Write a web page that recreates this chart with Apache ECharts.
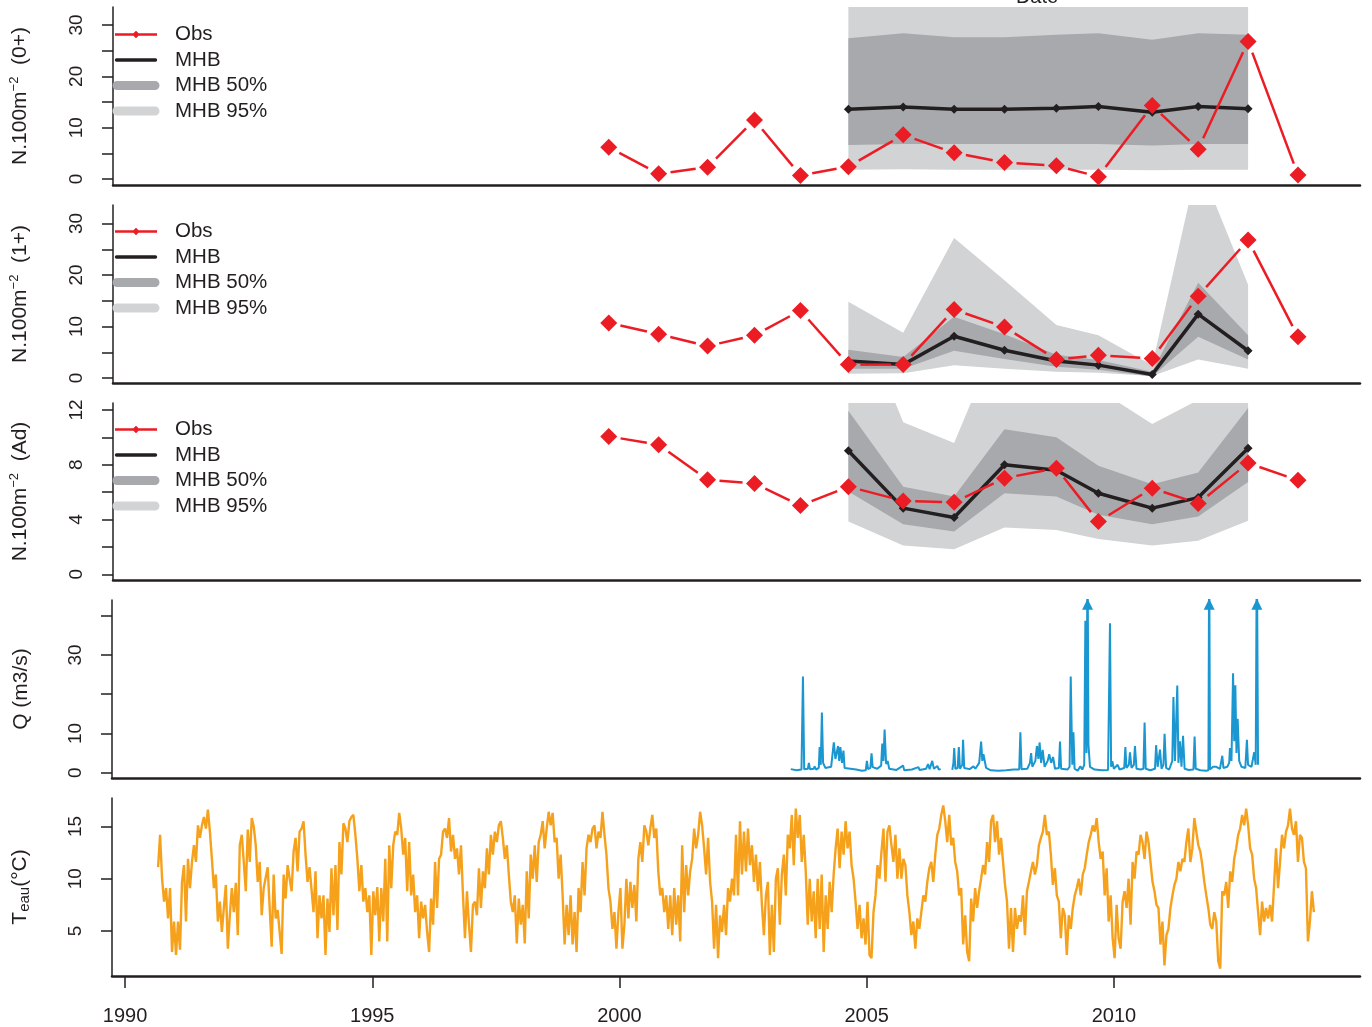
<!DOCTYPE html>
<html><head><meta charset="utf-8">
<script src="https://cdn.jsdelivr.net/npm/echarts@6/dist/echarts.min.js"></script>
<style>html,body{margin:0;padding:0;background:#fff}#c{width:1372px;height:1027px}</style>
</head><body><div id="c"></div>
<script>
// ---------- data ----------
const xTicks = [1990, 1995, 2000, 2005, 2010];
const obsYears = [1999.77, 2000.78, 2001.77, 2002.72, 2003.65, 2004.62, 2005.73, 2006.76, 2007.78, 2008.83, 2009.68, 2010.77, 2011.70, 2012.71, 2013.72];
const mhbYears = [2004.62, 2005.73, 2006.76, 2007.78, 2008.83, 2009.68, 2010.77, 2011.70, 2012.71];

// Panel 0+ 
const obs0  = [6.2, 1.0, 2.3, 11.5, 0.7, 2.4, 8.6, 5.1, 3.2, 2.6, 0.45, 14.3, 5.8, 26.8, 0.8];
const mhb0  = [13.6, 14.0, 13.6, 13.6, 13.8, 14.1, 13.0, 14.1, 13.7];
const lo95_0 = [1.8, 1.9, 1.8, 1.8, 1.8, 1.8, 1.7, 1.8, 1.8];
const lo50_0 = [6.6, 6.8, 6.8, 6.8, 6.8, 6.8, 6.5, 6.8, 6.8];
const hi50_0 = [27.4, 28.4, 27.6, 27.6, 28.1, 28.4, 27.1, 28.4, 28.1];
const hi95_0 = [45, 46, 44, 45, 47, 46, 44, 46, 45];

// Panel 1+
const obs1  = [10.7, 8.5, 6.2, 8.3, 13.1, 2.6, 2.6, 13.3, 9.9, 3.6, 4.4, 3.8, 15.9, 26.8, 8.0];
const mhb1  = [3.3, 2.6, 8.1, 5.4, 3.3, 2.5, 0.7, 12.4, 5.3];
const lo95_1 = [0.85, 0.9, 2.5, 1.8, 1.2, 1.0, 0.4, 3.6, 1.8];
const lo50_1 = [1.8, 1.8, 5.3, 3.7, 2.2, 1.6, 0.3, 8.0, 3.6];
const hi50_1 = [5.5, 4.1, 11.9, 8.5, 4.5, 3.5, 1.2, 18.5, 8.3];
const hi95_1 = [14.8, 8.8, 27.2, 19.0, 10.3, 8.3, 2.5, 42, 18.1];

// Panel Ad
const obs2  = [10.07, 9.46, 6.9, 6.63, 5.02, 6.4, 5.36, 5.26, 7.02, 7.75, 3.85, 6.29, 5.17, 8.12, 6.87];
const mhb2  = [9.02, 4.83, 4.14, 8.0, 7.6, 5.92, 4.83, 5.6, 9.2];
const lo95_2 = [3.85, 2.1, 1.83, 3.41, 3.24, 2.58, 2.1, 2.44, 3.9];
const lo50_2 = [6.04, 3.66, 3.12, 5.92, 5.68, 4.34, 3.66, 4.21, 6.73];
const hi50_2 = [11.95, 6.4, 5.68, 10.6, 10.0, 7.92, 6.58, 7.43, 12.14];
const hi95_2 = [21, 11.1, 9.58, 18.4, 16, 13.5, 10.97, 12.73, 16];

// Discharge Q (m3/s): [decimal year, value]; null = gap
const qPoints = [
[2003.463,0.9],[2003.58,0.6],[2003.68,0.8],[2003.71,24.5],[2003.735,0.9],[2003.81,1.0],[2003.83,2.5],[2003.852,0.9],
[2003.93,1.0],[2003.945,1.6],[2003.977,0.8],[2004.03,1.2],[2004.047,6.5],[2004.07,2.0],[2004.093,15.3],[2004.117,2.5],
[2004.163,1.2],[2004.28,1.5],[2004.334,7.7],[2004.366,3.5],[2004.42,6.8],[2004.443,3.0],[2004.467,6.5],[2004.5,2.5],
[2004.529,5.6],[2004.552,1.2],[2004.669,1.0],[2004.786,0.8],[2004.902,0.5],[2004.98,0.6],[2005.003,3.0],[2005.027,0.9],
[2005.073,1.2],[2005.097,4.9],[2005.12,1.4],[2005.213,1.0],[2005.291,1.8],[2005.314,7.4],[2005.338,3.0],[2005.361,11.0],
[2005.392,2.2],[2005.423,3.0],[2005.454,1.0],[2005.602,0.7],[2005.734,1.8],[2005.758,0.6],[2005.913,0.8],[2006.045,1.4],
[2006.068,0.7],[2006.201,1.0],[2006.24,2.2],[2006.271,0.9],[2006.325,3.0],[2006.357,1.0],[2006.427,1.7],[2006.458,0.8],
[2006.496,0.9],[2006.6,null],
[2006.73,0.7],[2006.753,2.5],[2006.769,6.3],[2006.792,1.0],[2006.839,1.2],[2006.862,6.5],[2006.885,1.0],[2006.932,2.0],
[2006.948,8.4],[2006.971,1.2],[2007.08,0.9],[2007.158,1.6],[2007.197,1.0],[2007.274,2.5],[2007.313,7.9],[2007.337,3.0],
[2007.36,4.7],[2007.414,1.2],[2007.508,0.6],[2007.663,0.5],[2007.819,0.6],[2007.974,0.8],[2008.083,0.8],[2008.107,10.3],
[2008.13,0.9],[2008.247,1.0],[2008.301,2.5],[2008.324,5.0],[2008.348,1.5],[2008.41,3.0],[2008.441,6.8],[2008.472,3.5],
[2008.495,7.7],[2008.527,2.5],[2008.558,5.8],[2008.597,1.5],[2008.659,3.0],[2008.69,4.7],[2008.729,2.5],[2008.768,4.0],
[2008.807,1.0],[2008.885,1.2],[2008.908,7.9],[2008.931,1.0],[2009.063,0.8],[2009.102,1.5],[2009.125,24.5],[2009.157,2.0],
[2009.18,10.3],[2009.203,1.0],[2009.265,0.5],[2009.32,1.6],[2009.359,0.8],[2009.398,2.0],[2009.421,38.7],[2009.444,5.0],
[2009.465,60],[2009.483,7.3],[2009.514,1.5],[2009.607,0.8],[2009.763,0.6],[2009.88,0.7],[2009.919,38.1],[2009.942,1.5],
[2009.966,2.9],[2009.997,1.0],[2010.074,2.0],[2010.113,0.8],[2010.207,1.2],[2010.23,6.5],[2010.253,1.2],[2010.3,2.0],
[2010.323,5.2],[2010.354,1.2],[2010.401,2.0],[2010.424,6.8],[2010.455,1.0],[2010.541,0.8],[2010.595,1.0],[2010.619,12.8],
[2010.642,1.0],[2010.735,0.6],[2010.829,1.0],[2010.852,7.0],[2010.883,1.5],[2010.93,5.9],[2010.961,1.0],[2011.0,2.0],
[2011.023,9.9],[2011.054,1.2],[2011.117,0.8],[2011.179,3.0],[2011.202,19.3],[2011.233,3.0],[2011.28,22.2],[2011.303,2.5],
[2011.334,8.0],[2011.365,1.5],[2011.396,9.4],[2011.428,1.0],[2011.513,0.7],[2011.607,0.8],[2011.63,9.2],[2011.653,1.0],
[2011.746,0.6],[2011.863,0.5],[2011.91,0.6],[2011.925,60],[2011.941,0.8],[2012.003,1.5],[2012.034,2.0],[2012.066,1.5],
[2012.097,2.0],[2012.143,1.0],[2012.19,4.3],[2012.213,1.2],[2012.291,1.5],[2012.33,2.5],[2012.345,6.3],[2012.376,3.0],
[2012.408,25.3],[2012.431,8.0],[2012.454,22.3],[2012.477,5.0],[2012.501,13.7],[2012.532,3.0],[2012.579,1.5],[2012.656,1.2],
[2012.688,8.4],[2012.711,2.0],[2012.781,1.5],[2012.835,5.2],[2012.866,2.0],[2012.889,60],[2012.913,2.0]
];
const qArrowYears = [2009.465, 2011.925, 2012.889];

// Water temperature, fortnightly readings from 1990.669
const teauStart = 1990.669, teauStep = 0.0403;
const teauVals = [
11.1,14.2,10.0,7.8,9.1,6.2,9.1,3.0,5.9,2.7, 5.9,3.2,9.7,11.3,5.9,11.9,9.1,11.6,13.2,11.6,
15.1,13.9,15.1,15.9,14.8,16.6,14.5,11.9,9.1,10.4, 5.9,7.8,4.9,7.2,9.4,3.3,6.5,9.1,6.8,9.6,
4.6,13.2,14.2,11.6,8.8,14.7,11.6,15.8,15.0,13.2, 9.7,11.6,6.5,9.1,9.1,11.1,7.2,3.5,10.4,6.2,
7.0,7.0,2.8,10.4,8.1,11.3,11.3,8.8,12.6,13.9, 10.7,14.5,14.8,15.5,12.3,9.7,11.1,11.1,6.8,10.7,
4.3,8.4,6.2,8.4,2.7,8.1,4.9,11.0,6.5,11.3, 5.1,13.5,10.4,15.3,14.8,13.5,15.5,15.9,16.1,14.2,
11.9,8.8,11.3,7.8,9.1,6.8,8.4,2.7,8.8,6.5, 9.2,4.0,9.1,5.9,11.9,4.0,13.2,9.1,13.2,14.5,
14.2,16.3,14.8,12.3,13.9,8.8,13.5,8.4,10.4,6.8, 8.4,4.3,7.8,6.2,7.5,4.9,3.0,8.1,5.6,11.6,
7.2,11.9,12.3,14.5,14.8,13.9,15.8,12.6,14.2,11.9, 12.9,10.4,13.2,8.4,4.3,8.8,5.6,3.0,7.5,7.8,
6.5,11.0,7.2,10.7,9.1,12.9,10.4,14.2,12.3,14.5, 13.5,15.1,15.5,13.9,11.9,13.2,10.4,7.8,6.8,8.4,
3.8,8.1,5.6,7.5,3.8,10.7,6.2,12.3,10.0,13.2, 9.7,13.5,14.2,15.5,12.9,14.8,16.4,15.1,16.3,13.5,
13.9,10.0,12.3,8.4,3.7,7.5,4.6,8.4,3.7,6.8, 3.0,9.1,6.8,11.6,8.4,12.9,14.2,13.5,14.8,15.1,
12.9,14.5,13.9,16.4,14.2,12.3,9.1,7.8,5.2,6.8, 3.3,6.8,9.1,3.3,5.6,10.0,6.2,9.7,7.2,9.4,
5.9,11.9,13.5,11.6,15.1,14.5,13.2,14.8,16.1,13.9, 14.8,10.7,8.4,9.1,6.8,8.4,5.2,8.4,4.6,9.1,
5.6,8.4,4.0,13.2,6.8,11.3,8.4,10.7,11.9,14.8, 12.9,14.2,16.4,15.1,12.9,10.4,13.9,9.7,7.8,3.3,
7.5,2.4,6.5,4.9,7.5,4.6,9.1,7.8,10.0,8.4,
14.2,8.4,15.5,10.4,14.5,10.7,14.8,11.3,13.2,9.7, 12.3,8.8,11.6,7.5,4.6,8.4,9.7,2.7,7.5,3.0,
10.0,11.0,5.6,10.4,12.3,8.4,14.2,12.9,16.1,11.3, 16.7,13.9,16.1,11.6,14.2,10.7,5.6,10.0,5.9,8.8,
4.3,10.0,5.2,10.4,3.0,8.4,5.2,9.7,6.8,10.4, 12.9,14.8,11.0,14.5,12.3,15.5,12.9,14.5,11.3,10.0,
7.8,5.2,7.5,4.3,6.2,3.7,7.8,2.7,2.4,6.8, 8.4,11.3,10.0,12.6,14.8,9.7,14.5,15.1,13.2,11.6,
14.2,10.0,12.9,10.0,11.9,11.3,8.4,6.8,4.6,5.9, 3.3,6.2,5.2,6.8,8.4,7.8,9.7,11.0,11.6,9.7,
12.3,14.2,14.8,16.1,17.0,15.5,13.5,16.1,13.2,13.9, 11.6,10.7,8.4,9.1,3.7,6.5,3.0,2.1,8.1,5.9,
9.1,7.2,8.8,10.0,11.3,10.4,13.5,11.6,15.5,16.1, 13.5,15.5,12.3,13.9,11.6,9.4,7.8,3.3,7.2,3.0,
7.2,5.2,6.5,5.9,8.4,4.6,8.8,9.7,10.7,11.6, 10.4,11.3,13.2,13.9,14.5,16.1,14.2,14.5,12.3,9.4,
11.0,8.4,7.8,4.3,7.2,6.5,2.7,6.5,5.2,7.2, 8.4,9.1,10.0,8.4,10.4,11.0,12.3,13.5,14.2,15.1,
14.5,15.8,13.5,11.9,12.6,8.4,11.0,5.9,8.4,4.3, 2.4,7.5,4.3,3.3,7.8,8.8,7.2,10.0,5.6,11.6,
10.0,12.6,12.3,14.2,13.5,11.9,14.5,13.5,11.6,9.7, 8.8,7.5,7.2,3.7,5.9,1.7,4.6,5.2,7.2,8.4,
9.4,10.0,11.6,10.7,11.9,11.6,13.5,14.8,11.6,12.9, 15.8,14.5,13.2,12.6,11.3,9.7,8.4,7.2,5.6,5.2,
6.8,5.9,2.1,1.4,8.8,8.4,9.7,7.2,10.7,9.7, 11.9,12.9,14.2,14.8,16.1,15.1,16.7,15.1,12.9,12.3,
10.0,9.1,6.8,4.6,7.8,5.9,7.2,6.2,7.5,5.9, 9.4,12.9,9.1,11.6,14.2,12.9,14.5,15.1,16.7,14.8,
14.2,15.5,11.6,14.2,13.9,11.6,11.0,4.0,5.9,8.8, 6.8
];

// ---------- styling ----------
const RED = '#ec1c24', BLACK = '#231f20', DARK = '#a7a9ac', LIGHT = '#d1d3d4';
const BLUE = '#1a96d0', ORANGE = '#f6a11c';
const FONT = 'Liberation Sans, Arial, Helvetica, sans-serif';
const xMin = 1989.737, xMax = 2014.975;
const gridTops = [7, 205, 403, 600, 798];
const gridHeights = [178, 178, 177, 178, 178];

const panels = [
  {obs: obs0, mhb: mhb0, lo95: lo95_0, lo50: lo50_0, hi50: hi50_0, hi95: hi95_0},
  {obs: obs1, mhb: mhb1, lo95: lo95_1, lo50: lo50_1, hi50: hi50_1, hi95: hi95_1},
  {obs: obs2, mhb: mhb2, lo95: lo95_2, lo50: lo50_2, hi50: hi50_2, hi95: hi95_2}
];

const grid = gridTops.map((t, i) => ({left: 112, width: 1248, top: t, height: gridHeights[i]}));

const xAxis = gridTops.map((t, i) => ({
  type: 'value', gridIndex: i, min: xMin, max: xMax,
  axisLine: {show: true, onZero: false, lineStyle: {color: BLACK, width: 2.5}},
  axisTick: {show: i === 4, length: 12, customValues: xTicks, lineStyle: {color: BLACK, width: 1.5}},
  axisLabel: {show: i === 4, customValues: xTicks, margin: 30, fontSize: 20, color: BLACK, fontFamily: FONT,
    formatter: v => String(Math.round(v))},
  splitLine: {show: false}
}));

const nameStyle = {
  fontSize: 21, color: BLACK, fontFamily: FONT,
  rich: {
    sup: {fontSize: 13, color: BLACK, fontFamily: FONT, padding: [0, 0, 12, 0]},
    sub: {fontSize: 15, color: BLACK, fontFamily: FONT, padding: [9, 0, 0, 0]}
  }
};
function yAx(i, min, max, ticks, labels, name) {
  return {
    type: 'value', gridIndex: i, min: min, max: max,
    name: name, nameLocation: 'middle', nameGap: 80, nameRotate: 90, nameTextStyle: nameStyle,
    axisLine: {show: true, onZero: false, lineStyle: {color: BLACK, width: 1.5}},
    axisTick: {show: true, length: 11, customValues: ticks, lineStyle: {color: BLACK, width: 1.5}},
    axisLabel: {customValues: labels, rotate: 90, margin: 27, fontSize: 19, color: BLACK, fontFamily: FONT,
      formatter: v => String(Math.round(v))},
    splitLine: {show: false}
  };
}
const yAxis = [
  yAx(0, -1.17, 33.5, [0,5,10,15,20,25,30], [0,10,20,30], 'N.100m{sup|−2}  (0+)'),
  yAx(1, -0.97, 33.6, [0,5,10,15,20,25,30], [0,10,20,30], 'N.100m{sup|−2}  (1+)'),
  yAx(2, -0.42, 12.51, [0,2,4,6,8,10,12], [0,4,8,12], 'N.100m{sup|−2}  (Ad)'),
  yAx(3, -1.36, 44.0, [0,10,20,30,40], [0,10,30], 'Q (m3/s)'),
  yAx(4, 0.69, 17.72, [5,10,15], [5,10,15], 'T{sub|eau}(°C)')
];

const pair = (xs, ys) => xs.map((x, k) => [x, ys[k]]);

// band polygon (lo..hi) drawn through the axis scales, clipped to the grid
function bandSeries(i, lo, hi, color, name) {
  return {
    type: 'custom', name: name, xAxisIndex: i, yAxisIndex: i, z: 1, silent: true, color: color,
    encode: {x: 0, y: [1, 2]},
    data: mhbYears.map((x, k) => [x, lo[k], hi[k]]),
    renderItem: function (params, api) {
      if (params.dataIndex !== 0) return {type: 'group', children: []};
      const pts = [];
      for (let k = 0; k < mhbYears.length; k++) pts.push(api.coord([mhbYears[k], hi[k]]));
      for (let k = mhbYears.length - 1; k >= 0; k--) pts.push(api.coord([mhbYears[k], lo[k]]));
      const cs = params.coordSys;
      return {
        type: 'polygon', shape: {points: pts}, style: {fill: color, stroke: null},
        clipPath: {type: 'rect', shape: {x: cs.x, y: cs.y, width: cs.width, height: cs.height}}
      };
    }
  };
}

const series = [];
panels.forEach((p, i) => {
  series.push(bandSeries(i, p.lo95, p.hi95, LIGHT, 'MHB 95%'));
  series.push(bandSeries(i, p.lo50, p.hi50, DARK, 'MHB 50%'));
  series.push({
    type: 'line', name: 'MHB', xAxisIndex: i, yAxisIndex: i, data: pair(mhbYears, p.mhb), z: 3,
    color: BLACK, lineStyle: {color: BLACK, width: 3.5}, symbol: 'diamond', symbolSize: 9,
    itemStyle: {color: BLACK, opacity: 1}, silent: true
  });
  series.push({
    type: 'custom', name: 'Obs', xAxisIndex: i, yAxisIndex: i, z: 4, silent: true, color: RED,
    encode: {x: [0, 2], y: [1, 3]},
    data: obsYears.slice(1).map((x, k) => [obsYears[k], p.obs[k], x, p.obs[k + 1]]),
    renderItem: function (params, api) {
      const a = api.coord([api.value(0), api.value(1)]);
      const b = api.coord([api.value(2), api.value(3)]);
      const dx = b[0] - a[0], dy = b[1] - a[1], L = Math.hypot(dx, dy), g = 12;
      if (L <= 2 * g) return {type: 'group', children: []};
      const ux = dx / L, uy = dy / L;
      return {type: 'line', shape: {x1: a[0] + ux * g, y1: a[1] + uy * g, x2: b[0] - ux * g, y2: b[1] - uy * g},
        style: {stroke: RED, lineWidth: 2.5}};
    }
  });
  series.push({
    type: 'scatter', name: 'Obs', xAxisIndex: i, yAxisIndex: i, z: 5, silent: true,
    data: pair(obsYears, p.obs), symbol: 'diamond', symbolSize: 17, itemStyle: {color: RED, opacity: 1}
  });
});
series.push({
  type: 'line', name: 'Q', xAxisIndex: 3, yAxisIndex: 3, data: qPoints, symbol: 'none', silent: true,
  connectNulls: false, clip: true, lineStyle: {color: BLUE, width: 2}, color: BLUE
});
series.push({
  type: 'scatter', name: 'Qarrow', xAxisIndex: 3, yAxisIndex: 3, silent: true,
  data: qArrowYears.map(x => [x, 42.9]), symbol: 'triangle', symbolSize: [11, 11],
  itemStyle: {color: BLUE, opacity: 1}
});
series.push({
  type: 'line', name: 'Teau', xAxisIndex: 4, yAxisIndex: 4, symbol: 'none', silent: true,
  data: teauVals.map((v, k) => [teauStart + k * teauStep, v]),
  lineStyle: {color: ORANGE, width: 2.4}, color: ORANGE
});

// legend icons (50 x 12 box)
const corners = 'M0,0 L0.01,0 L0,0.01 Z M50,12 L49.99,12 L50,11.99 Z ';
const icons = {
  obs: 'path://' + corners + 'M4,4.8 L46,4.8 L46,7.2 L4,7.2 Z M25,2.2 L28.8,6 L25,9.8 L21.2,6 Z',
  mhb: 'path://' + corners + 'M5.5,4.3 L44.5,4.3 A1.7,1.7 0 0 1 44.5,7.7 L5.5,7.7 A1.7,1.7 0 0 1 5.5,4.3 Z',
  band: 'path://' + corners + 'M6,1.5 L44,1.5 A4.5,4.5 0 0 1 44,10.5 L6,10.5 A4.5,4.5 0 0 1 6,1.5 Z'
};
const legendTops = [24, 221, 419];
const legend = legendTops.map(t => ({
  orient: 'vertical', left: 111, top: t, itemWidth: 50, itemHeight: 12, itemGap: 4.5,
  selectedMode: false, padding: 0,
  textStyle: {fontSize: 20.5, color: BLACK, fontFamily: FONT, lineHeight: 20, padding: [0, 0, 0, 9]},
  data: [
    {name: 'Obs', icon: icons.obs, itemStyle: {color: RED, borderWidth: 0}},
    {name: 'MHB', icon: icons.mhb, itemStyle: {color: BLACK, borderWidth: 0}},
    {name: 'MHB 50%', icon: icons.band, itemStyle: {color: DARK, borderWidth: 0}},
    {name: 'MHB 95%', icon: icons.band, itemStyle: {color: LIGHT, borderWidth: 0}}
  ]
}));

const chart = echarts.init(document.getElementById('c'), null, {renderer: 'canvas'});
chart.setOption({
  animation: false,
  backgroundColor: '#ffffff',
  textStyle: {fontFamily: FONT},
  grid: grid, xAxis: xAxis, yAxis: yAxis, legend: legend, series: series,
  graphic: [{type: 'text', x: 1037, y: 7, silent: true,
    style: {text: 'Date', font: '20px ' + FONT, fill: BLACK, align: 'center', verticalAlign: 'bottom'}}]
});
</script>
</body></html>
